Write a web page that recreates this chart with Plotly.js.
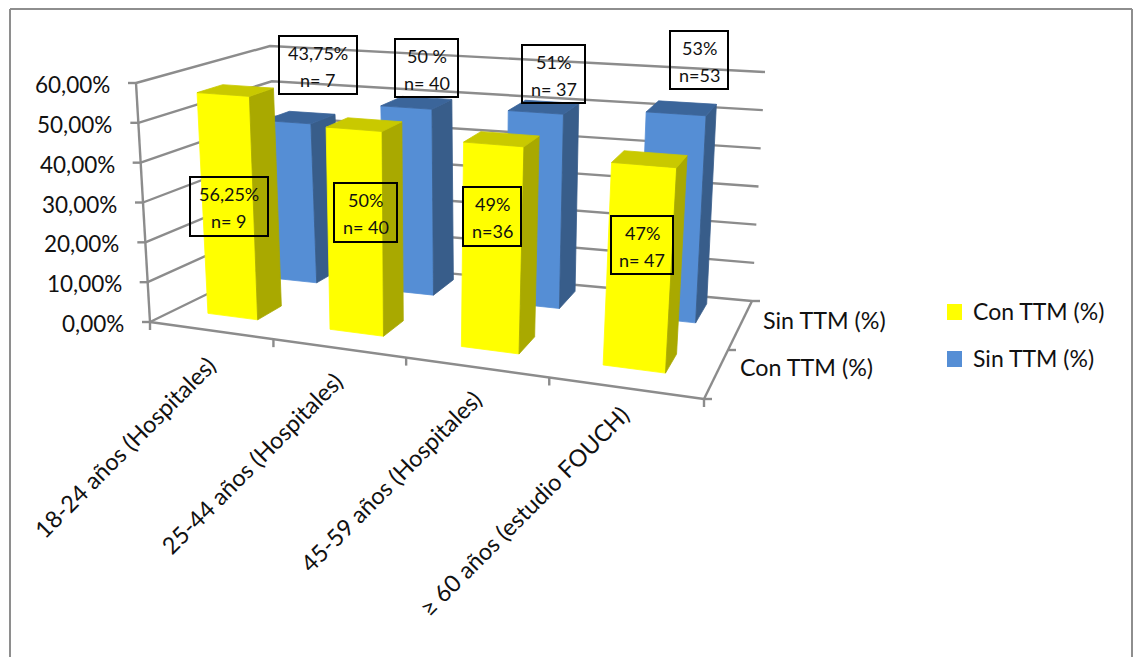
<!DOCTYPE html>
<html>
<head>
<meta charset="utf-8">
<script src="https://cdn.plot.ly/plotly-3.0.1.min.js"></script>
<style>html,body{margin:0;padding:0;background:#fff}#chart{width:1139px;height:657px}</style>
</head>
<body>
<div id="chart"></div>
<script>
// Share of patients by age group, with and without TTM (%)
const categories = ['18-24 años (Hospitales)', '25-44 años (Hospitales)', '45-59 años (Hospitales)', '≥ 60 años (estudio FOUCH)'];
const seriesNames = ['Con TTM (%)', 'Sin TTM (%)'];
const conTTM = [56.25, 50, 49, 47];
const sinTTM = [43.75, 50, 51, 53];
const conLabels = [['56,25%', 'n= 9'], ['50%', 'n= 40'], ['49%', 'n=36'], ['47%', 'n= 47']];
const sinLabels = [['43,75%', 'n= 7'], ['50 %', 'n= 40'], ['51%', 'n= 37'], ['53%', 'n=53']];
const valueTicks = [0, 10, 20, 30, 40, 50, 60];

// Oblique view of the chart box: canvas position of the floor and ceiling corners
const VMAX = 60;
const floorQuad = {fl: [150, 322], fr: [704, 399], br: [752, 301], bl: [281, 258]};
const topQuad = {fl: [136, 83], fr: [722, 125], br: [765, 72], bl: [270, 46]};
const NEAR = 0.86;   // foreshortening along the category axis

const lerp = (a, b, t) => a + (b - a) * t;
const warp = u => u * NEAR / (1 - u * (1 - NEAR));
function quadPoint(q, u, w) {
  const f = [lerp(q.fl[0], q.fr[0], u), lerp(q.fl[1], q.fr[1], u)];
  const b = [lerp(q.bl[0], q.br[0], u), lerp(q.bl[1], q.br[1], u)];
  return [lerp(f[0], b[0], w), lerp(f[1], b[1], w)];
}
// u: along categories, w: along series depth, v: value in percent
function project(u, w, v) {
  const uu = warp(u);
  const a = quadPoint(floorQuad, uu, w), b = quadPoint(topQuad, uu, w);
  const t = v / VMAX;
  return [lerp(a[0], b[0], t), lerp(a[1], b[1], t)];
}

const BAR_HALF = 0.052;
const DEPTH = [[0.20, 0.40], [0.73, 0.93]];
const ROW_SHIFT = [[-0.005, 0], [-0.015, 0.013]];   // sideways drift of each row of bars
const ROW_SCALE = [1, 0.98];                        // height foreshortening of each row
const FACE_COLORS = [
  {front: '#FFFF00', side: '#A9A900', top: '#C9C900'},
  {front: '#558ED5', side: '#385D8A', top: '#3B659A'}
];
const GRID = '#8C8C8C';
const GRID_WIDTH = 2.4;

function polyTrace(points, color) {
  const x = [], y = [];
  points.forEach(poly => {
    poly.forEach(p => { x.push(p[0]); y.push(p[1]); });
    x.push(null); y.push(null);
  });
  return {x, y, mode: 'lines', fill: 'toself', fillcolor: color, line: {color, width: 0.8},
          hoverinfo: 'skip', showlegend: false};
}
function lineTrace(a, b) {
  return {x: [a[0], b[0]], y: [a[1], b[1]], mode: 'lines', line: {color: GRID, width: GRID_WIDTH},
          hoverinfo: 'skip', showlegend: false};
}

const traces = [];

// Walls: one polyline per gridline, front-left to back-left to back-right
valueTicks.forEach(v => {
  const p = [project(0, 0, v), project(0, 1, v), project(1, 1, v)];
  traces.push({x: p.map(q => q[0]), y: p.map(q => q[1]), mode: 'lines', line: {color: GRID, width: GRID_WIDTH},
               hoverinfo: 'skip', showlegend: false});
  const f = project(0, 0, v);
  traces.push(lineTrace([f[0] - 8, f[1]], f));
});
traces.push(lineTrace(project(0, 0, 0), project(0, 0, VMAX)));

// Floor edges and their tick marks
traces.push(lineTrace(project(0, 0, 0), project(1, 0, 0)));
traces.push(lineTrace(project(1, 0, 0), project(1, 1, 0)));
[0, 0.25, 0.5, 0.75, 1].forEach(u => {
  const p = project(u, 0, 0);
  traces.push(lineTrace(p, [p[0], p[1] + 8]));
});
[0, 0.5, 1].forEach(w => {
  const p = project(1, w, 0);
  traces.push(lineTrace(p, [p[0] + 8, p[1]]));
});

// Bars: back row first so the front row paints over it
[sinTTM, conTTM].forEach((values, idx) => {
  const s = idx === 0 ? 1 : 0;
  const [w0, w1] = DEPTH[s];
  const fronts = [], sides = [], tops = [];
  values.forEach((value, i) => {
    const val = value * ROW_SCALE[s];
    const base = (i + 0.5) / categories.length;
    const c = base + ROW_SHIFT[s][0] + ROW_SHIFT[s][1] * base;
    const u0 = c - BAR_HALF, u1 = c + BAR_HALF;
    fronts.push([project(u0, w0, 0), project(u1, w0, 0), project(u1, w0, val), project(u0, w0, val), project(u0, w0, 0)]);
    sides.push([project(u1, w0, 0), project(u1, w1, 0), project(u1, w1, val), project(u1, w0, val), project(u1, w0, 0)]);
    tops.push([project(u0, w0, val), project(u1, w0, val), project(u1, w1, val), project(u0, w1, val), project(u0, w0, val)]);
  });
  traces.push(polyTrace(fronts, FACE_COLORS[s].front));
  traces.push(polyTrace(sides, FACE_COLORS[s].side));
  traces.push(polyTrace(tops, FACE_COLORS[s].top));
});

const FONT = 'Lato, Carlito, Calibri, sans-serif';
const TEXT = '#111111';
const annotations = [];
const shapes = [];
function note(text, x, y, size, angle, anchor) {
  annotations.push({text, x, y, xref: 'x', yref: 'y', showarrow: false, textangle: angle || 0,
                    xanchor: anchor || 'center', yanchor: 'middle',
                    font: {family: FONT, size, color: TEXT}});
}

// Value labels follow the slant of the vertical axis
valueTicks.forEach(v => {
  const p = project(0, 0, v);
  note(v.toFixed(2).replace('.', ',') + '%', p[0] - 24, p[1] + 1.5, 22.5, 0, 'right');
});

// Category labels, slanted under the front floor edge
const categoryCenters = [[125, 447], [252, 463], [391, 481], [524, 511]];
categories.forEach((c, i) => note(c, categoryCenters[i][0], categoryCenters[i][1], 23.5, -45));

// Depth axis labels
note(seriesNames[1], 824.5, 320, 23.3);
note(seriesNames[0], 806.5, 367, 23.3);

// Legend
const legendRows = [[seriesNames[0], 311, FACE_COLORS[0].front], [seriesNames[1], 358, FACE_COLORS[1].front]];
legendRows.forEach(r => {
  note(r[0], 971, r[1], 23, 0, 'left');
  shapes.push({type: 'rect', xref: 'x', yref: 'y', x0: 947, x1: 962, y0: r[1] - 7, y1: r[1] + 9,
               fillcolor: r[2], line: {width: 0}});
});

// Boxed value callouts
const conBoxes = [[190, 177, 268, 236], [334, 183, 397, 242], [463, 187, 521, 246], [611, 216, 673, 274]];
const sinBoxes = [[279, 36, 357, 94], [395, 39, 458, 97], [522, 45, 585, 103], [670, 31, 728, 89]];
function callouts(boxes, labels) {
  boxes.forEach((b, i) => {
    shapes.push({type: 'rect', xref: 'x', yref: 'y', x0: b[0], y0: b[1], x1: b[2], y1: b[3],
                 line: {color: '#000', width: 2}, fillcolor: 'rgba(0,0,0,0)'});
    const mid = (b[0] + b[2]) / 2;
    note(labels[i][0], mid, b[1] + 17, 18);
    note(labels[i][1], mid, b[1] + 44, 18);
  });
}
callouts(conBoxes, conLabels);
callouts(sinBoxes, sinLabels);

// Outer chart frame, open at the lower edge of the page
[[10, 700, 10, 9], [10, 9, 1132, 9], [1132, 9, 1132, 700]].forEach(l => {
  shapes.push({type: 'line', xref: 'x', yref: 'y', x0: l[0], y0: l[1], x1: l[2], y1: l[3],
               line: {color: '#8E8E8E', width: 2}, layer: 'below'});
});

const layout = {
  width: 1139, height: 657,
  margin: {l: 0, r: 0, t: 0, b: 0},
  paper_bgcolor: '#fff', plot_bgcolor: '#fff',
  showlegend: false,
  xaxis: {range: [0, 1139], visible: false, fixedrange: true},
  yaxis: {range: [657, 0], visible: false, fixedrange: true},
  annotations, shapes
};

Plotly.newPlot('chart', traces, layout, {displayModeBar: false, staticPlot: true});
</script>
</body>
</html>
